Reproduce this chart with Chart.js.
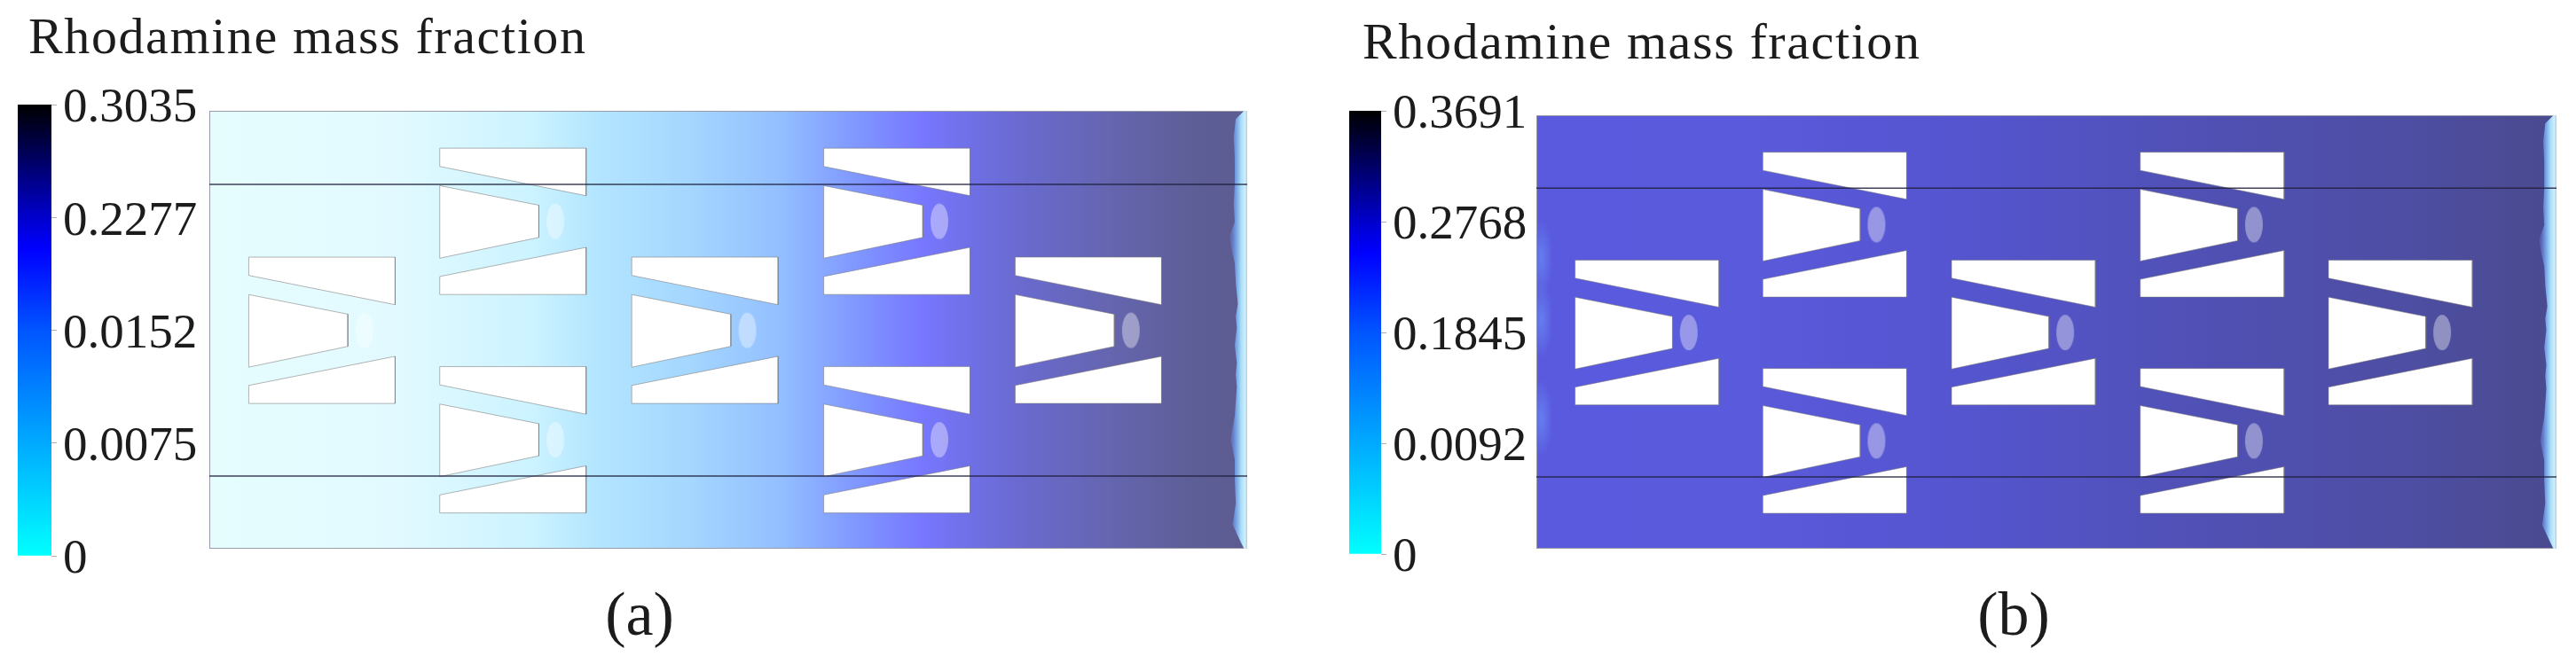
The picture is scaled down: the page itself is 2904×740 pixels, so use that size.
<!DOCTYPE html>
<html>
<head>
<meta charset="utf-8">
<title>Rhodamine mass fraction</title>
<script src="https://cdn.jsdelivr.net/npm/chart.js@4"></script>
<style>
    html, body { margin: 0; padding: 0; background: #fff; }
    body { position: relative; width: 2904px; height: 740px; overflow: hidden; }
    canvas { position: absolute; }
    .field { filter: blur(0.5px); }
    .txt { position: absolute; font-family: 'Liberation Serif', serif; color: #1c1c1c; white-space: nowrap; line-height: normal; }
</style>
</head>
<body>
<div class="txt" style="left:32px;top:7px;font-size:58px;letter-spacing:1.6px">Rhodamine mass fraction</div>
<div class="txt" style="left:1536px;top:13px;font-size:58px;letter-spacing:1.6px">Rhodamine mass fraction</div>
<div class="txt" style="left:721px;top:653px;font-size:70px;transform:translateX(-50%)">(a)</div>
<div class="txt" style="left:2270px;top:653px;font-size:70px;transform:translateX(-50%)">(b)</div>

<canvas id="bar-a" width="228" height="620" style="left:0;top:60px"></canvas>
<canvas id="field-a" class="field" width="1170" height="494" style="left:236px;top:125px"></canvas>
<canvas id="bar-b" width="227" height="620" style="left:1500px;top:60px"></canvas>
<canvas id="field-b" class="field" width="1150" height="489" style="left:1732px;top:130px"></canvas>

<script>
// Colour bar tick labels, bottom to top
const ticksA = ['0', '0.0075', '0.0152', '0.2277', '0.3035'];
const ticksB = ['0', '0.0092', '0.1845', '0.2768', '0.3691'];

// Channel domain, same geometry in both panels
const domainWidth = 100;
const domainHeight = 42.2;

// Obstacle groups: left and top corner of each one
const groupLeft = [3.8, 22.2, 22.2, 40.7, 59.2, 59.2, 77.65];
const groupTop = [14.1, 3.6, 24.65, 14.1, 3.6, 24.65, 14.1];
const groupWidth = 14.1;
const groupHeight = 14.1;

// Obstacle outlines inside a group, as fractions of the group box
const upperX = [0, 1, 1, 0];
const upperY = [0, 0, 0.325, 0.125];
const middleX = [0, 0.677, 0.677, 0];
const middleY = [0.256, 0.39, 0.61, 0.752];
const lowerX = [0, 1, 1, 0];
const lowerY = [0.877, 0.678, 1, 1];
const spotX = 0.79;
const spotY = 0.5;

// Horizontal section lines
const sectionY = [7.1, 35.2];

// Wavy outlet front at the right wall
const outletY = [0, 0.8, 2.5, 4.5, 7, 9, 10.7, 12.1, 13.4, 14.7, 16.6, 18.6, 19.8, 20.9, 22.6, 24.3, 25.4, 26.6, 29.4, 31.7, 33.6, 35.6, 37.8, 39.9, 41.6, 42.2];
const outletX = [99.7, 98.9, 98.7, 98.8, 98.8, 98.7, 98.8, 98.3, 98.5, 98.8, 98.9, 99.1, 98.9, 99.0, 98.8, 99.0, 98.9, 99.0, 98.8, 98.4, 98.8, 98.8, 98.9, 98.6, 99.4, 99.7];

// Lighter patches at the inlet wall in panel b
const inletGlowX = [0.5, 0.5, 0.5];
const inletGlowY = [13.9, 19.9, 29.5];

// Colour map stops
const barStops = [[0, '#00ffff'], [0.25, '#00aaff'], [0.5, '#0055ff'], [0.68, '#0000ff'], [0.75, '#0000cc'], [0.875, '#000066'], [1, '#000000']];
const fieldStopsA = [[0, '#e6fdfe'], [0.18, '#e2faff'], [0.31, '#ccf3ff'], [0.37, '#b4e6ff'], [0.465, '#a4d6ff'], [0.55, '#93bfff'], [0.62, '#8099ff'], [0.687, '#7777ff'], [0.73, '#7070e8'], [0.78, '#6a6ad0'], [0.867, '#6565b0'], [0.944, '#5e5e98'], [1, '#5c5c90']];
const fieldStopsB = [[0, '#5a5adf'], [0.2, '#5a5adc'], [0.41, '#5555d0'], [0.66, '#5050b4'], [0.84, '#4e4ea5'], [1, '#4a4a8f']];
const outletStops = [[0, 'rgba(110,125,225,0.2)'], [0.35, 'rgba(120,170,240,0.85)'], [0.65, '#a8def8'], [0.88, '#cfeefa'], [1, '#a8cdea']];

function outline(xs, ys, left, top) {
    const pts = xs.map((x, i) => ({ x: left + x * groupWidth, y: top + ys[i] * groupHeight }));
    pts.push(pts[0]);
    return pts;
}

function polygonDataset(data, extra) {
    return Object.assign({ data, showLine: true, fill: 'shape', pointRadius: 0, tension: 0, borderWidth: 0, order: 3 }, extra);
}

function gradientX(chart, stops, from, to) {
    // Options are also resolved once before layout, scales are not ready then
    if (!chart.chartArea) return 'transparent';
    const sx = chart.scales.x;
    const g = chart.ctx.createLinearGradient(sx.getPixelForValue(from), 0, sx.getPixelForValue(to), 0);
    stops.forEach(s => g.addColorStop(s[0], s[1]));
    return g;
}

// Sprite for the pale spots at the throats
function spotSprite() {
    const c = document.createElement('canvas');
    c.width = 22;
    c.height = 42;
    const g = c.getContext('2d');
    g.fillStyle = 'rgba(255,255,255,0.38)';
    g.beginPath();
    g.ellipse(11, 21, 10, 20, 0, 0, Math.PI * 2);
    g.fill();
    return c;
}

function glowSprite() {
    const c = document.createElement('canvas');
    c.width = 26;
    c.height = 90;
    const g = c.getContext('2d');
    g.translate(13, 45);
    g.scale(0.29, 1);
    const r = g.createRadialGradient(0, 0, 0, 0, 0, 45);
    r.addColorStop(0, 'rgba(110,150,250,0.6)');
    r.addColorStop(1, 'rgba(110,150,250,0)');
    g.fillStyle = r;
    g.fillRect(-45, -45, 90, 90);
    return c;
}

function drawField(id, stops, withGlow) {
    const datasets = [];

    // Section lines on top of everything
    sectionY.forEach(y => {
        datasets.push({ data: [{ x: 0, y }, { x: domainWidth, y }], showLine: true, pointRadius: 0, borderColor: 'rgba(30,30,60,0.85)', borderWidth: 1.5, order: 1 });
    });

    datasets.push({
        data: groupLeft.map((x, i) => ({ x: x + spotX * groupWidth, y: groupTop[i] + spotY * groupHeight })),
        showLine: false, pointStyle: spotSprite(), pointRadius: 10, order: 2
    });

    groupLeft.forEach((left, i) => {
        [[upperX, upperY], [middleX, middleY], [lowerX, lowerY]].forEach(part => {
            datasets.push(polygonDataset(outline(part[0], part[1], left, groupTop[i]), {
                backgroundColor: '#ffffff', borderColor: 'rgba(120,120,120,0.55)', borderWidth: 1
            }));
        });
    });

    if (withGlow) {
        datasets.push({
            data: inletGlowX.map((x, i) => ({ x, y: inletGlowY[i] })),
            showLine: false, pointStyle: glowSprite(), pointRadius: 10, order: 4
        });
    }

    const front = outletY.map((y, i) => ({ x: outletX[i], y }));
    front.push({ x: domainWidth, y: domainHeight }, { x: domainWidth, y: 0 }, front[0]);
    datasets.push(polygonDataset(front, {
        order: 4,
        backgroundColor: ctx => gradientX(ctx.chart, outletStops, 98.3, domainWidth)
    }));

    const box = [{ x: 0, y: 0 }, { x: domainWidth, y: 0 }, { x: domainWidth, y: domainHeight }, { x: 0, y: domainHeight }, { x: 0, y: 0 }];
    datasets.push(polygonDataset(box, {
        order: 5,
        backgroundColor: ctx => gradientX(ctx.chart, stops, 0, domainWidth),
        borderColor: '#9a9aa8',
        borderWidth: 2
    }));

    return new Chart(document.getElementById(id), {
        type: 'scatter',
        data: { datasets },
        options: {
            responsive: false,
            animation: false,
            layout: { padding: 0, autoPadding: false },
            plugins: { legend: { display: false }, tooltip: { enabled: false } },
            scales: {
                x: { display: false, min: 0, max: domainWidth },
                y: { display: false, min: 0, max: domainHeight, reverse: true }
            }
        }
    });
}

function drawColourBar(id, tickLabels, padTop, padBottom, padLeft) {
    return new Chart(document.getElementById(id), {
        type: 'bar',
        data: {
            labels: ['scale'],
            datasets: [{
                data: [[0, tickLabels.length - 1]],
                barPercentage: 1,
                categoryPercentage: 1,
                borderWidth: 0,
                backgroundColor: ctx => {
                    if (!ctx.chart.chartArea) return 'transparent';
                    const sy = ctx.chart.scales.y;
                    const g = ctx.chart.ctx.createLinearGradient(0, sy.getPixelForValue(0), 0, sy.getPixelForValue(tickLabels.length - 1));
                    barStops.forEach(s => g.addColorStop(s[0], s[1]));
                    return g;
                }
            }]
        },
        options: {
            responsive: false,
            animation: false,
            layout: { padding: { top: padTop, bottom: padBottom, left: padLeft, right: 0 } },
            plugins: { legend: { display: false }, tooltip: { enabled: false } },
            scales: {
                x: { display: false },
                y: {
                    position: 'right',
                    min: 0,
                    max: tickLabels.length - 1,
                    afterFit: s => { s.width = 170; },
                    grid: { drawOnChartArea: false, tickLength: 6, color: '#b0b0b0' },
                    border: { display: false },
                    ticks: {
                        stepSize: 1,
                        autoSkip: false,
                        padding: 7,
                        labelOffset: 5,
                        color: '#1c1c1c',
                        font: { family: "'Liberation Serif', serif", size: 55 },
                        callback: v => tickLabels[v]
                    }
                }
            }
        }
    });
}

drawField('field-a', fieldStopsA, false);
drawField('field-b', fieldStopsB, true);
drawColourBar('bar-a', ticksA, 58, 53, 20);
drawColourBar('bar-b', ticksB, 65, 55, 21);
</script>
</body>
</html>
